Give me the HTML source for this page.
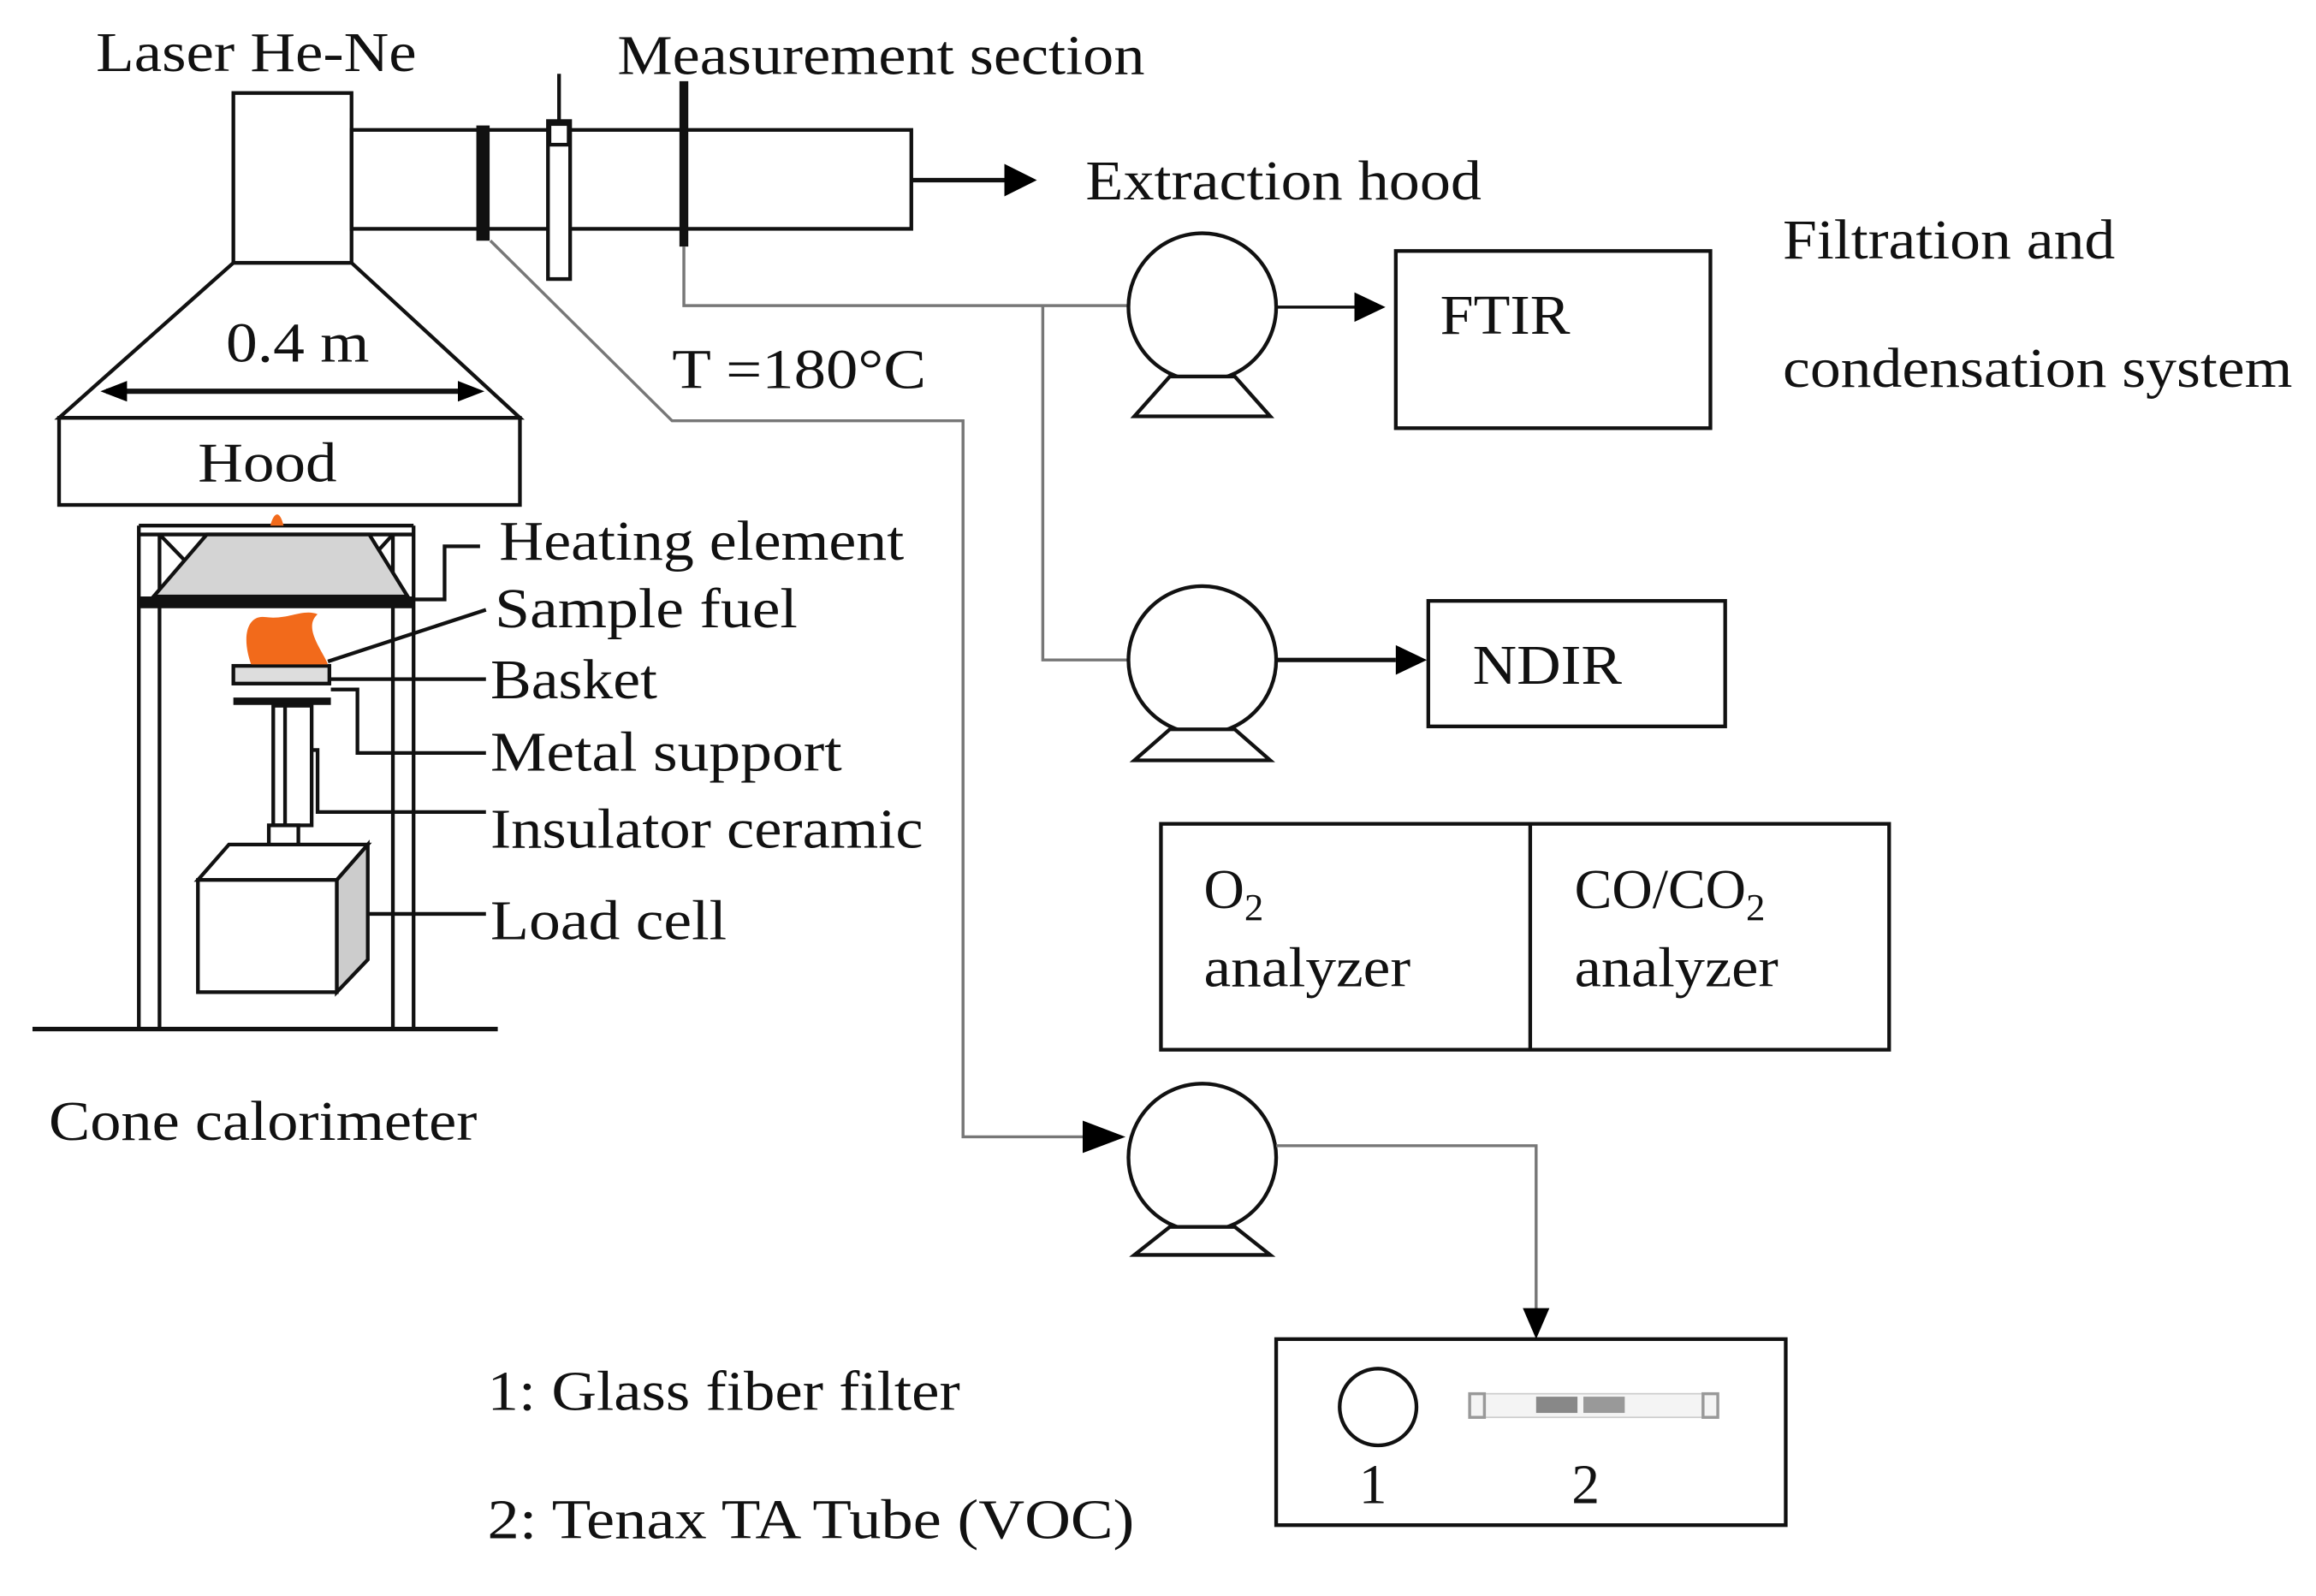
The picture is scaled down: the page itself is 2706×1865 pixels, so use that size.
<!DOCTYPE html>
<html><head><meta charset="utf-8"><style>
html,body{margin:0;padding:0;background:#fff;}
svg{display:block;}
text{font-family:"Liberation Serif",serif;fill:#111;}
</style></head><body>
<svg width="2706" height="1865" viewBox="0 0 1568 1081" preserveAspectRatio="none" xmlns="http://www.w3.org/2000/svg">
<g fill="none" stroke="#111" stroke-width="2.5">
<rect x="158" y="63" width="80" height="115"/>
<rect x="238" y="88" width="379" height="67"/>
<line x1="327" y1="85" x2="327" y2="163" stroke-width="9"/>
<rect x="371" y="82" width="15" height="107" fill="#fff"/>
<rect x="372" y="84" width="13" height="14" fill="#fff"/>
<line x1="378.5" y1="50" x2="378.5" y2="82"/>
<line x1="463" y1="55" x2="463" y2="167" stroke-width="6"/>
<line x1="617" y1="122" x2="685" y2="122" stroke-width="3"/>
<polygon points="158,178 238,178 352,283 40,283"/>
<rect x="40" y="283" width="312" height="59"/>
<line x1="72" y1="265" x2="323" y2="265" stroke-width="3.5"/>
<line x1="22" y1="697" x2="337" y2="697" stroke-width="3"/>
<line x1="94" y1="356" x2="94" y2="697"/>
<line x1="108" y1="362" x2="108" y2="697"/>
<line x1="266" y1="362" x2="266" y2="697"/>
<line x1="280" y1="356" x2="280" y2="697"/>
<line x1="94" y1="356" x2="280" y2="356"/>
<line x1="94" y1="362" x2="280" y2="362"/>
<line x1="108" y1="362" x2="140" y2="395"/>
<line x1="266" y1="362" x2="236" y2="395"/>
<polygon points="140,362 250,362 276,404 104,404" fill="#d4d4d4"/>
<line x1="94" y1="408" x2="280" y2="408" stroke-width="8"/>
<rect x="158" y="451" width="65" height="12" fill="#ddd"/>
<line x1="158" y1="475" x2="224" y2="475" stroke-width="5"/>
<rect x="185" y="478" width="26" height="81" fill="#fff"/>
<line x1="193" y1="478" x2="193" y2="559"/>
<rect x="182" y="559" width="20" height="26" fill="#fff"/>
<polygon points="228,596 249,572 249,650 228,672" fill="#ccc"/>
<polygon points="134,596 155,572 249,572 228,596" fill="#fff"/>
<rect x="134" y="596" width="94" height="76" fill="#fff"/>
<polyline points="280,406 301,406 301,370 325,370"/>
<polyline points="222,448 329,413"/>
<polyline points="223,460 329,460"/>
<polyline points="224,467 242,467 242,510 329,510"/>
<polyline points="211,508 215,508 215,550 329,550"/>
<polyline points="249,619 329,619"/>
<polyline points="332,163 455,285 652,285 652,770 735,770" stroke="#777" stroke-width="2"/>
<polyline points="463,167 463,207 764,207" stroke="#777" stroke-width="2"/>
<polyline points="706,207 706,447 764,447" stroke="#777" stroke-width="2"/>
<circle cx="814" cy="208" r="50" fill="#fff"/>
<polygon points="792,255 836,255 860,282 768,282" fill="#fff"/>
<circle cx="814" cy="447" r="50" fill="#fff"/>
<polygon points="792,494 836,494 860,515 768,515" fill="#fff"/>
<circle cx="814" cy="784" r="50" fill="#fff"/>
<polygon points="792,831 836,831 860,850 768,850" fill="#fff"/>
<line x1="864" y1="208" x2="918" y2="208" stroke-width="2"/>
<line x1="864" y1="447" x2="945" y2="447" stroke-width="3"/>
<polyline points="864,776 1040,776 1040,888" stroke="#777" stroke-width="2"/>
<rect x="945" y="170" width="213" height="120"/>
<rect x="967" y="407" width="201" height="85"/>
<rect x="786" y="558" width="493" height="153"/>
<line x1="1036" y1="558" x2="1036" y2="711"/>
<rect x="864" y="907" width="345" height="126"/>
<circle cx="933" cy="953" r="26"/>
</g>
<g fill="#000">
<polygon points="680,111 702,122 680,133"/>
<polygon points="917,198 938,208 917,218"/>
<polygon points="945,437 966,447 945,457"/>
<polygon points="733,759 762,770 733,781"/>
<polygon points="1031,886 1049,886 1040,907"/>
<polygon points="86,258 86,272 68,265"/>
<polygon points="310,258 310,272 328,265"/>
</g>
<g>
<rect x="995" y="944" width="168" height="16" fill="#f4f4f4" stroke="#ccc" stroke-width="1"/>
<rect x="995" y="944" width="10" height="16" fill="none" stroke="#999" stroke-width="2"/>
<rect x="1153" y="944" width="10" height="16" fill="none" stroke="#999" stroke-width="2"/>
<rect x="1040" y="946" width="28" height="11" fill="#888"/>
<rect x="1072" y="946" width="28" height="11" fill="#999"/>
</g>
<path d="M170,450 C163,430 168,416 180,418 C195,420 205,412 215,416 C205,425 218,440 222,450 Z" fill="#f26a1b"/>
<path d="M183,356 C185,348 189,344 192,356 Z" fill="#f26a1b"/>
<g font-size="38" lengthAdjust="spacingAndGlyphs">
<text x="65" y="48" textLength="217" lengthAdjust="spacingAndGlyphs">Laser He-Ne</text>
<text x="418" y="50" textLength="357" lengthAdjust="spacingAndGlyphs">Measurement section</text>
<text x="735" y="135" textLength="268" lengthAdjust="spacingAndGlyphs">Extraction hood</text>
<text x="153" y="245" textLength="97" lengthAdjust="spacingAndGlyphs">0.4 m</text>
<text x="134" y="326" textLength="94" lengthAdjust="spacingAndGlyphs">Hood</text>
<text x="455" y="263" textLength="172" lengthAdjust="spacingAndGlyphs">T =180°C</text>
<text x="338" y="379" textLength="274" lengthAdjust="spacingAndGlyphs">Heating element</text>
<text x="335" y="425" textLength="205" lengthAdjust="spacingAndGlyphs">Sample  fuel</text>
<text x="332" y="473" textLength="113" lengthAdjust="spacingAndGlyphs">Basket</text>
<text x="332" y="522" textLength="238" lengthAdjust="spacingAndGlyphs">Metal  support</text>
<text x="332" y="574" textLength="293" lengthAdjust="spacingAndGlyphs">Insulator ceramic</text>
<text x="332" y="636" textLength="160" lengthAdjust="spacingAndGlyphs">Load cell</text>
<text x="33" y="772" textLength="290" lengthAdjust="spacingAndGlyphs">Cone calorimeter</text>
<text x="975" y="226" textLength="88" lengthAdjust="spacingAndGlyphs">FTIR</text>
<text x="1207" y="175" textLength="225" lengthAdjust="spacingAndGlyphs">Filtration and</text>
<text x="1207" y="262" textLength="345" lengthAdjust="spacingAndGlyphs">condensation system</text>
<text x="997" y="463" textLength="101" lengthAdjust="spacingAndGlyphs">NDIR</text>
<text x="815" y="615">O<tspan font-size="26" dy="8">2</tspan></text>
<text x="815" y="668" textLength="140" lengthAdjust="spacingAndGlyphs">analyzer</text>
<text x="1066" y="615">CO/CO<tspan font-size="26" dy="8">2</tspan></text>
<text x="1066" y="668" textLength="138" lengthAdjust="spacingAndGlyphs">analyzer</text>
<text x="330" y="955" textLength="320" lengthAdjust="spacingAndGlyphs">1: Glass fiber filter</text>
<text x="330" y="1042" textLength="438" lengthAdjust="spacingAndGlyphs">2: Tenax  TA Tube (VOC)</text>
<text x="920" y="1018">1</text>
<text x="1064" y="1018">2</text>
</g>
</svg>
</body></html>
